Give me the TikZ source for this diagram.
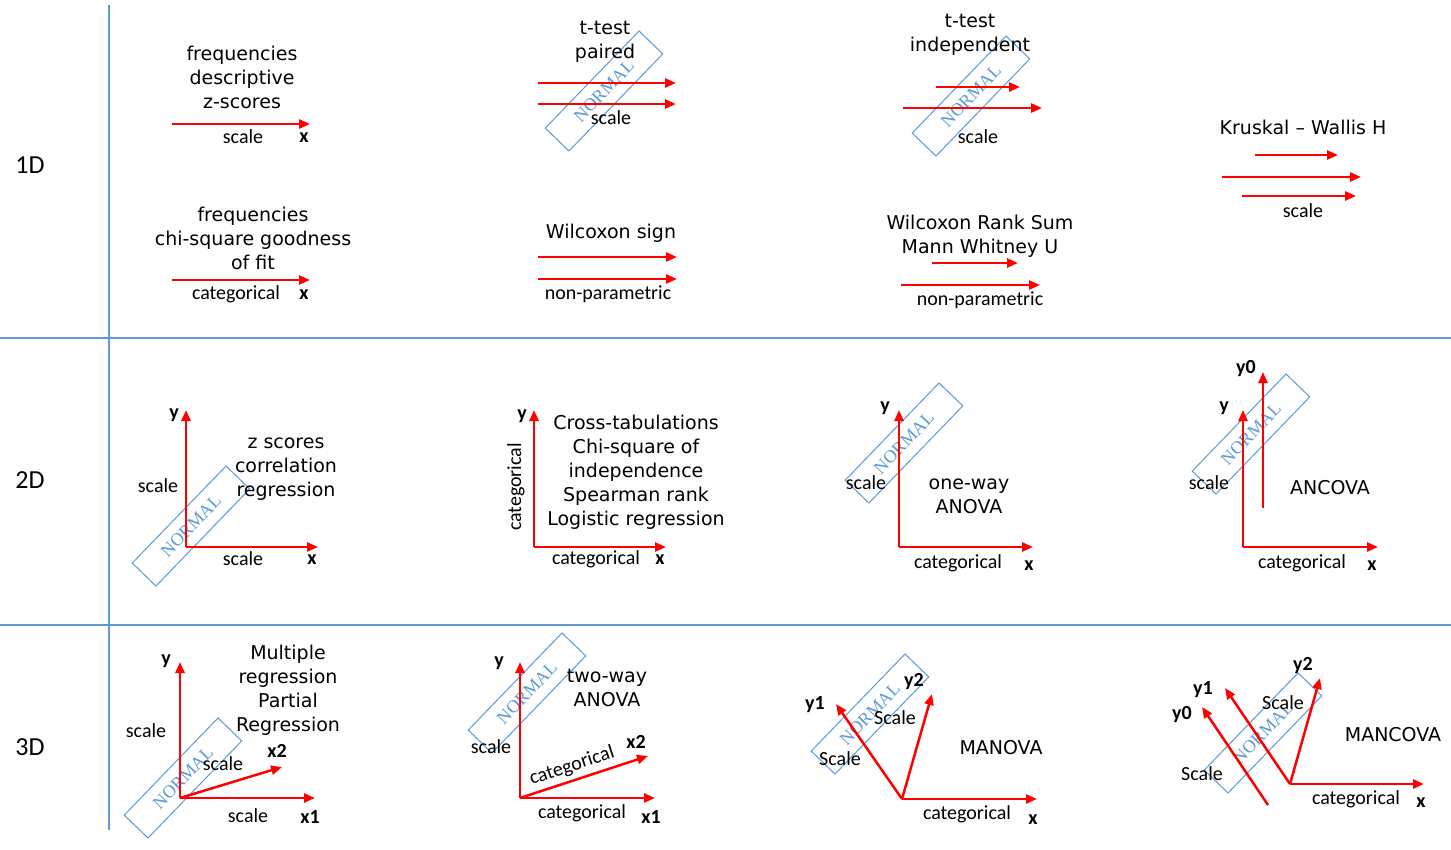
\documentclass[tikz,border=0pt]{standalone}
\usepackage{fontspec}
\setmainfont{Carlito}
\newfontfamily\ttlfam{DejaVu Sans}
\newfontfamily\serfam{Liberation Serif}
\usetikzlibrary{arrows.meta}
\definecolor{nblue}{RGB}{91,155,213}
\definecolor{axred}{RGB}{255,0,0}
\newcommand\myttlfont{\ttlfam\fontsize{19}{24}\selectfont}
\newcommand\mylblfont{\fontsize{20}{24}\selectfont}
\newcommand\myaxfont{\bfseries\fontsize{20}{22}\selectfont}
\newcommand\mynfont{\serfam\fontsize{18}{20}\selectfont}
\newcommand\myrowfont{\fontsize{26}{30}\selectfont}
\tikzset{
  ax/.style={draw=axred, line width=2.5pt, -{Triangle[length=11pt,width=9pt]}},
  gridline/.style={draw=nblue, line width=2pt},
  ttl/.style={font=\myttlfont, align=center, inner sep=0pt},
  lbl/.style={font=\mylblfont, inner sep=0pt},
  axl/.style={font=\myaxfont, inner sep=0pt},
  rowl/.style={font=\myrowfont, inner sep=0pt},
  nbox/.style={draw=nblue, line width=1pt, minimum width=135pt, minimum height=33pt, inner sep=0pt, text=nblue, font=\mynfont, rotate=46},
}
\begin{document}
\begin{tikzpicture}[x=1pt,y=-1pt]
\useasboundingbox[fill=white] (0,0) rectangle (1451,850);
% grid
\coordinate (gv1) at (109,5); \coordinate (gv2) at (109,830);
\coordinate (gh1a) at (0,338); \coordinate (gh1b) at (1451,338);
\coordinate (gh2a) at (0,625); \coordinate (gh2b) at (1451,625);
\draw[gridline] (gv1) -- (gv2);
\draw[gridline] (gh1a) -- (gh1b);
\draw[gridline] (gh2a) -- (gh2b);
% row labels
\node[rowl] (r1) at (30,165) {1D};
\node[rowl] (r2) at (30,480) {2D};
\node[rowl] (r3) at (30,747) {3D};

% ===== Row 1 =====
\node[ttl] (t11) at (242,77) {frequencies\\descriptive\\z-scores};
\coordinate (a11s) at (172,124); \coordinate (a11e) at (310,124);
\draw[ax] (a11s) -- (a11e);
\node[lbl] (l11) at (243,137) {scale};
\node[axl] (x11) at (304,138) {x};

\node[ttl] (t12) at (253,238) {frequencies\\chi-square goodness\\of fit};
\coordinate (a12s) at (172,280); \coordinate (a12e) at (310,280);
\draw[ax] (a12s) -- (a12e);
\node[lbl] (l12) at (236,294) {categorical};
\node[axl] (x12) at (304,295) {x};

\node[nbox] (n13) at (604,91) {NORMAL};
\node[ttl] (t13) at (605,42) {t-test\\paired};
\coordinate (a13s) at (538,83); \coordinate (a13e) at (676,83);
\coordinate (b13s) at (538,104); \coordinate (b13e) at (676,104);
\draw[ax] (a13s) -- (a13e);
\draw[ax] (b13s) -- (b13e);
\node[lbl] (l13) at (611,118) {scale};

\node[ttl] (t14) at (611,233) {Wilcoxon sign};
\coordinate (a14s) at (538,257); \coordinate (a14e) at (677,257);
\coordinate (b14s) at (538,279); \coordinate (b14e) at (677,279);
\draw[ax] (a14s) -- (a14e);
\draw[ax] (b14s) -- (b14e);
\node[lbl] (l14) at (608,294) {non-parametric};

\node[nbox] (n15) at (971,96) {NORMAL};
\node[ttl] (t15) at (970,35) {t-test\\independent};
\coordinate (a15s) at (936,87); \coordinate (a15e) at (1020,87);
\coordinate (b15s) at (903,108); \coordinate (b15e) at (1042,108);
\draw[ax] (a15s) -- (a15e);
\draw[ax] (b15s) -- (b15e);
\node[lbl] (l15) at (978,137) {scale};

\node[ttl] (t16) at (980,236) {Wilcoxon Rank Sum\\Mann Whitney U};
\coordinate (a16s) at (932,263); \coordinate (a16e) at (1018,263);
\coordinate (b16s) at (901,285); \coordinate (b16e) at (1040,285);
\draw[ax] (a16s) -- (a16e);
\draw[ax] (b16s) -- (b16e);
\node[lbl] (l16) at (980,300) {non-parametric};

\node[ttl] (t17) at (1303,127) {Kruskal – Wallis H};
\coordinate (a17s) at (1255,155); \coordinate (a17e) at (1338,155);
\coordinate (b17s) at (1222,177); \coordinate (b17e) at (1361,177);
\coordinate (c17s) at (1242,196); \coordinate (c17e) at (1356,196);
\draw[ax] (a17s) -- (a17e);
\draw[ax] (b17s) -- (b17e);
\draw[ax] (c17s) -- (c17e);
\node[lbl] (l17) at (1303,211) {scale};

% ===== Row 2 =====
\node[nbox] (n21) at (191,526) {NORMAL};
\coordinate (o21) at (186,547); \coordinate (y21) at (186,410); \coordinate (x21) at (318,547);
\draw[ax] (o21) -- (y21);
\draw[ax] (o21) -- (x21);
\node[axl] (ly21) at (174,415) {y};
\node[axl] (lx21) at (312,560) {x};
\node[lbl] (ls21) at (158,486) {scale};
\node[lbl] (lb21) at (243,559) {scale};
\node[ttl] (t21) at (286,469) {z scores\\correlation\\regression};

\coordinate (o22) at (534,547); \coordinate (y22) at (534,410); \coordinate (x22) at (666,547);
\draw[ax] (o22) -- (y22);
\draw[ax] (o22) -- (x22);
\node[axl] (ly22) at (522,416) {y};
\node[axl] (lx22) at (660,560) {x};
\node[lbl, rotate=90] (ls22) at (516,487) {categorical};
\node[lbl] (lb22) at (596,559) {categorical};
\node[ttl] (t22) at (636,472) {Cross-tabulations\\Chi-square of\\independence\\Spearman rank\\Logistic regression};

\node[nbox] (n23) at (904,443) {NORMAL};
\coordinate (o23) at (899,547); \coordinate (y23) at (899,410); \coordinate (x23) at (1033,547);
\draw[ax] (o23) -- (y23);
\draw[ax] (o23) -- (x23);
\node[axl] (ly23) at (885,408) {y};
\node[axl] (lx23) at (1029,566) {x};
\node[lbl] (ls23) at (866,483) {scale};
\node[lbl] (lb23) at (958,563) {categorical};
\node[ttl] (t23) at (969,496) {one-way\\ANOVA};

\node[nbox] (n24) at (1251,434) {NORMAL};
\coordinate (o24) at (1243,547); \coordinate (y24) at (1243,410); \coordinate (x24) at (1378,547);
\coordinate (y0s24) at (1263,508); \coordinate (y0e24) at (1263,372);
\draw[ax] (o24) -- (y24);
\draw[ax] (o24) -- (x24);
\draw[ax] (y0s24) -- (y0e24);
\node[axl] (lz24) at (1246,369) {y0};
\node[axl] (ly24) at (1224,408) {y};
\node[axl] (lx24) at (1372,566) {x};
\node[lbl] (ls24) at (1209,483) {scale};
\node[lbl] (lb24) at (1302,563) {categorical};
\node[ttl] (t24) at (1330,488) {ANCOVA};

% ===== Row 3 =====
\node[nbox] (n31) at (183,778) {NORMAL};
\coordinate (o31) at (180,798); \coordinate (y31) at (180,662);
\coordinate (x131) at (315,798); \coordinate (x231) at (282,767);
\draw[ax] (o31) -- (y31);
\draw[ax] (o31) -- (x131);
\draw[ax] (o31) -- (x231);
\node[axl] (ly31) at (166,661) {y};
\node[lbl] (ls31) at (146,731) {scale};
\node[lbl] (lm31) at (223,764) {scale};
\node[axl] (lx231) at (277,751) {x2};
\node[lbl] (lb31) at (248,816) {scale};
\node[axl] (lx131) at (310,817) {x1};
\node[ttl] (t31) at (288,690) {Multiple\\regression\\Partial\\Regression};

\node[nbox] (n32) at (527,693) {NORMAL};
\coordinate (o32) at (520,798); \coordinate (y32) at (520,662);
\coordinate (x132) at (655,798); \coordinate (x232) at (648,756);
\draw[ax] (o32) -- (y32);
\draw[ax] (o32) -- (x132);
\draw[ax] (o32) -- (x232);
\node[axl] (ly32) at (499,663) {y};
\node[lbl] (ls32) at (491,747) {scale};
\node[lbl, rotate=18] (lm32) at (572,766) {categorical};
\node[axl] (lx232) at (636,742) {x2};
\node[lbl] (lb32) at (582,813) {categorical};
\node[axl] (lx132) at (651,817) {x1};
\node[ttl] (t32) at (607,688) {two-way\\ANOVA};

\node[nbox] (n33) at (870,714) {NORMAL};
\coordinate (o33) at (902,799); \coordinate (x33) at (1037,799);
\coordinate (ya33) at (836,704); \coordinate (yb33) at (932,694);
\draw[ax] (o33) -- (x33);
\draw[ax] (o33) -- (ya33);
\draw[ax] (o33) -- (yb33);
\node[axl] (lya33) at (815,705) {y1};
\node[axl] (lyb33) at (914,682) {y2};
\node[lbl] (lsa33) at (895,718) {Scale};
\node[lbl] (lsb33) at (840,759) {Scale};
\node[ttl] (t33) at (1001,748) {MANOVA};
\node[lbl] (lb33) at (967,814) {categorical};
\node[axl] (lx33) at (1033,820) {x};

\node[nbox] (n34) at (1263,733) {NORMAL};
\coordinate (o34) at (1290,784); \coordinate (x34) at (1424,784);
\coordinate (ya34) at (1225,688); \coordinate (yb34) at (1320,678);
\coordinate (y0s34) at (1268,805); \coordinate (y0e34) at (1202,707);
\draw[ax] (o34) -- (x34);
\draw[ax] (o34) -- (ya34);
\draw[ax] (o34) -- (yb34);
\draw[ax] (y0s34) -- (y0e34);
\node[axl] (lz34) at (1182,715) {y0};
\node[axl] (lya34) at (1203,690) {y1};
\node[axl] (lyb34) at (1303,666) {y2};
\node[lbl] (lsa34) at (1283,703) {Scale};
\node[lbl] (lsb34) at (1202,774) {Scale};
\node[ttl] (t34) at (1393,735) {MANCOVA};
\node[lbl] (lb34) at (1356,799) {categorical};
\node[axl] (lx34) at (1421,803) {x};
\end{tikzpicture}
\end{document}
